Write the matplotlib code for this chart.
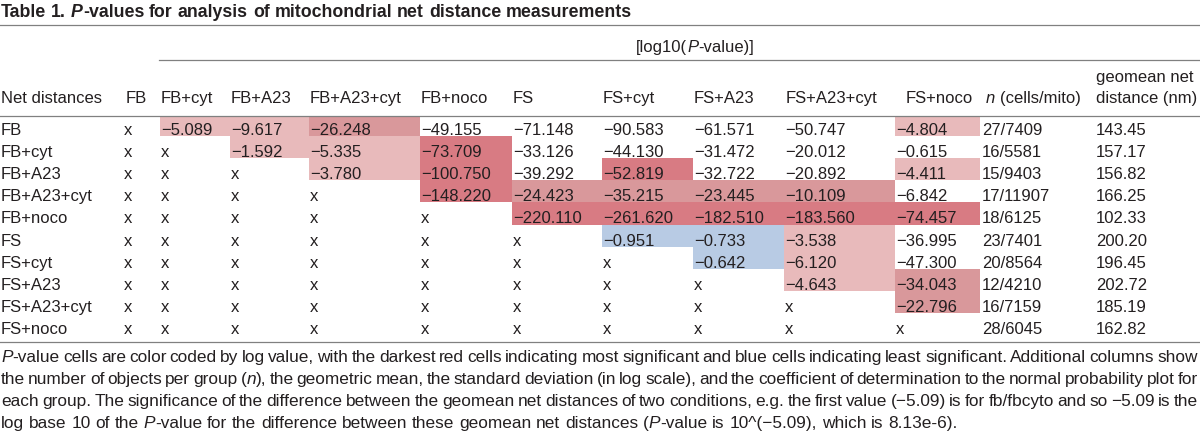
import matplotlib
matplotlib.use('Agg')
import matplotlib.pyplot as plt
from matplotlib.patches import Rectangle

plt.rcParams['font.family'] = ['Liberation Sans', 'DejaVu Sans']

# ---------------- data ----------------
conditions = ["FB", "FB+cyt", "FB+A23", "FB+A23+cyt", "FB+noco",
              "FS", "FS+cyt", "FS+A23", "FS+A23+cyt", "FS+noco"]

log10_p = [
    [None, -5.089, -9.617, -26.248, -49.155, -71.148, -90.583, -61.571, -50.747, -4.804],
    [None, None, -1.592, -5.335, -73.709, -33.126, -44.130, -31.472, -20.012, -0.615],
    [None, None, None, -3.780, -100.750, -39.292, -52.819, -32.722, -20.892, -4.411],
    [None, None, None, None, -148.220, -24.423, -35.215, -23.445, -10.109, -6.842],
    [None, None, None, None, None, -220.110, -261.620, -182.510, -183.560, -74.457],
    [None, None, None, None, None, None, -0.951, -0.733, -3.538, -36.995],
    [None, None, None, None, None, None, None, -0.642, -6.120, -47.300],
    [None, None, None, None, None, None, None, None, -4.643, -34.043],
    [None, None, None, None, None, None, None, None, None, -22.796],
    [None, None, None, None, None, None, None, None, None, None],
]

# shading class as it appears in the table (L light red, M medium, D dark red, B blue)
shade = [
    ["", "L", "L", "M", "", "", "", "", "", "L"],
    ["", "", "L", "L", "D", "", "", "", "", ""],
    ["", "", "", "L", "D", "", "D", "", "", "L"],
    ["", "", "", "", "D", "M", "M", "M", "M", ""],
    ["", "", "", "", "", "D", "D", "D", "D", "D"],
    ["", "", "", "", "", "", "B", "B", "L", ""],
    ["", "", "", "", "", "", "", "B", "L", ""],
    ["", "", "", "", "", "", "", "", "L", "M"],
    ["", "", "", "", "", "", "", "", "", "M"],
    ["", "", "", "", "", "", "", "", "", ""],
]

n_cells = [27, 16, 15, 17, 18, 23, 20, 12, 16, 28]
n_mito = [7409, 5581, 9403, 11907, 6125, 7401, 8564, 4210, 7159, 6045]
geomean_nm = [143.45, 157.17, 156.82, 166.25, 102.33, 200.20, 196.45, 202.72, 185.19, 162.82]

title_runs = [("Table 1. ", "bold", "normal"), ("P", "bold", "italic"),
              ("-values for analysis of mitochondrial net distance measurements", "bold", "normal")]

caption_lines = [
    [("P", "normal", "italic"),
     ("-value cells are color coded by log value, with the darkest red cells indicating most significant and blue cells indicating least significant. Additional columns show", "normal", "normal")],
    [("the number of objects per group (", "normal", "normal"), ("n", "normal", "italic"),
     ("), the geometric mean, the standard deviation (in log scale), and the coefficient of determination to the normal probability plot for", "normal", "normal")],
    [("each group. The significance of the difference between the geomean net distances of two conditions, e.g. the first value (\u22125.09) is for fb/fbcyto and so \u22125.09 is the", "normal", "normal")],
    [("log base 10 of the ", "normal", "normal"), ("P", "normal", "italic"),
     ("-value for the difference between these geomean net distances (", "normal", "normal"),
     ("P", "normal", "italic"), ("-value is 10^(\u22125.09), which is 8.13e-6).", "normal", "normal")],
]

# ---------------- style / layout ----------------
TXT = "#231f20"
RULE = "#808080"
SHADE_COLORS = {"L": "#e8babb", "M": "#d9989b", "D": "#d87b83", "B": "#b8cbe4"}
TABLE_FS = 12
CAP_FS = 12.4
TITLE_FS = 12.8

W, H = 1200, 436
fig = plt.figure(figsize=(W / 100, H / 100), dpi=100)
ax = fig.add_axes([0, 0, 1, 1])
ax.set_xlim(0, W)
ax.set_ylim(H, 0)
ax.axis("off")
renderer = fig.canvas.get_renderer()


def draw_runs(x, y, runs, size, width=None):
    words = [[]]
    for text, weight, style in runs:
        parts = text.split(" ")
        for k, p in enumerate(parts):
            if k > 0:
                words.append([])
            if p:
                words[-1].append((p, weight, style))
    words = [w for w in words if w]
    made = []
    for w in words:
        items = []
        for p, weight, style in w:
            t = ax.text(0, y, p, fontsize=size, fontweight=weight, fontstyle=style,
                        color=TXT, va="baseline", ha="left")
            wd = t.get_window_extent(renderer).width
            items.append((t, wd))
        made.append(items)
    total = sum(wd for items in made for _, wd in items)
    space = 0.278 * size * 100 / 72
    if width is not None and len(made) > 1:
        space = (width - total) / (len(made) - 1)
    cx = x
    for items in made:
        for t, wd in items:
            t.set_x(cx)
            cx += wd
        cx += space


# title
draw_runs(1, 17, title_runs, TITLE_FS)

# rules
ax.plot([0, W], [25, 25], color=RULE, lw=0.9)
ax.plot([159, W], [60, 60], color=RULE, lw=0.9)
ax.plot([0, W], [116, 116], color=RULE, lw=0.9)
ax.plot([0, W], [342, 342], color=RULE, lw=0.9)

# column positions
label_x = 1
col_x = [124, 161, 231, 310, 421, 513, 603, 694, 785, 896]
hdr_x = [126, 161, 231, 310, 421, 513, 603, 694, 786, 906]
n_x = 982
n_hdr_x = 986
gm_x = 1096

draw_runs(636, 52, [("[log10(", "normal", "normal"), ("P", "normal", "italic"),
                    ("-value)]", "normal", "normal")], TABLE_FS)

# header row
hdr_y = 103
ax.text(label_x, hdr_y, "Net distances", fontsize=TABLE_FS, color=TXT, va="baseline")
for cx, name in zip(hdr_x, conditions):
    ax.text(cx, hdr_y, name, fontsize=TABLE_FS, color=TXT, va="baseline")
draw_runs(n_hdr_x, hdr_y, [("n", "normal", "italic"), (" (cells/mito)", "normal", "normal")], TABLE_FS)
ax.text(gm_x, 82, "geomean net", fontsize=TABLE_FS, color=TXT, va="baseline")
ax.text(gm_x, hdr_y, "distance (nm)", fontsize=TABLE_FS, color=TXT, va="baseline")

# body
row_top0 = 113.5
pitch = 22.2
bounds = [c - 1.5 for c in col_x] + [n_x - 2]
for i, name in enumerate(conditions):
    top = row_top0 + i * pitch
    bot = top + pitch
    base = bot - 1.2
    for j in range(len(conditions)):
        cls = shade[i][j]
        if cls:
            y0 = max(top, 117)
            ax.add_patch(Rectangle((bounds[j], y0), bounds[j + 1] - bounds[j], bot - y0,
                                   facecolor=SHADE_COLORS[cls], edgecolor="none", zorder=0))
    ax.text(label_x, base, name, fontsize=TABLE_FS, color=TXT, va="baseline")
    for j in range(len(conditions)):
        v = log10_p[i][j]
        s = "x" if v is None else f"{v:.3f}".replace("-", "\u2212")
        ax.text(col_x[j], base, s, fontsize=TABLE_FS, color=TXT, va="baseline", zorder=2)
    ax.text(n_x, base, f"{n_cells[i]}/{n_mito[i]}", fontsize=TABLE_FS, color=TXT, va="baseline")
    ax.text(gm_x, base, f"{geomean_nm[i]:.2f}", fontsize=TABLE_FS, color=TXT, va="baseline")

# caption
cap_base = [362, 384, 406, 428]
for k, runs in enumerate(caption_lines):
    draw_runs(1, cap_base[k], runs, CAP_FS, width=1197 if k < 3 else None)

fig.savefig("out.png", dpi=100)
